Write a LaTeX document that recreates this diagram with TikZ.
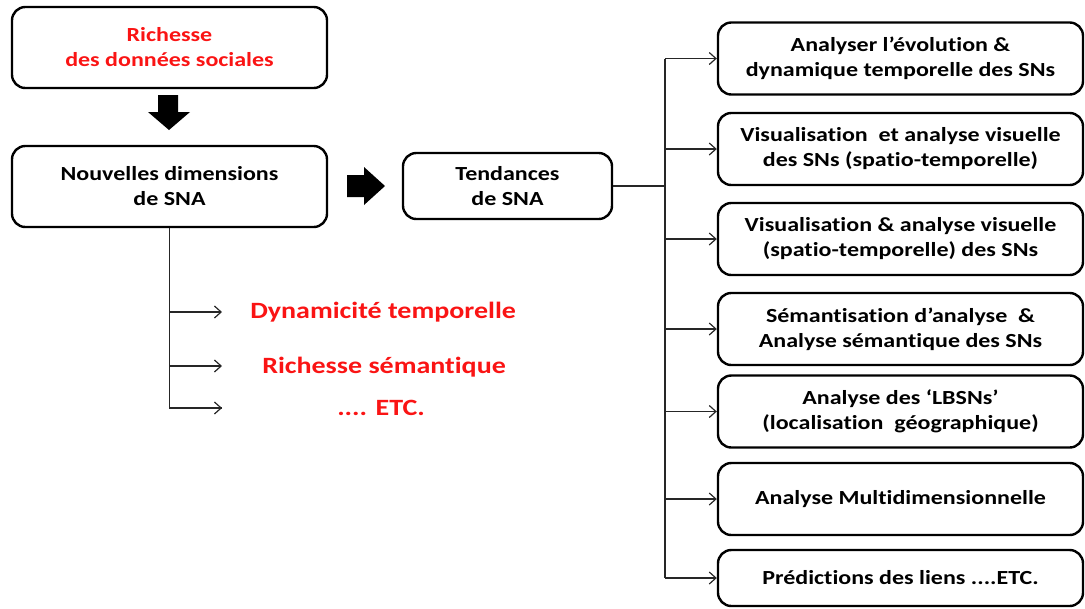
\documentclass[tikz,border=0pt]{standalone}
\usepackage{fontspec}
\setmainfont{Carlito}[FakeStretch=1.2, Ligatures=NoCommon]
\usetikzlibrary{arrows.meta}
\definecolor{hot}{RGB}{250,20,20}
\newcommand\px[1]{#1*0.75pt}
\begin{document}
\begin{tikzpicture}[x=0.75pt,y=-0.75pt,
  box/.style={draw=black, line width=1.8pt, rounded corners=10pt, align=center,
    font=\bfseries\fontsize{15}{18.75}\selectfont, inner sep=0pt},
  leftbox/.style={box, minimum width=\px{315}, minimum height=\px{81}},
  rightbox/.style={box, minimum width=\px{365}, minimum height=\px{72}},
  item/.style={text=hot, font=\bfseries\fontsize{17.5}{21}\selectfont, anchor=west, inner sep=0pt},
  link/.style={line width=1.1pt, draw=black!85},
  tip/.style={link, -{Straight Barb[length=5pt,width=9pt,line width=0.9pt]}},
  bigarrow/.style={fill=black, draw=none}
]
\useasboundingbox (0,0) rectangle (1085,608);

% left column
\node[leftbox, text=hot] (rich) at (169.5,47.5) {Richesse\\des données sociales};
\node[leftbox] (dims) at (169.5,186.5) {Nouvelles dimensions\\de SNA};
\node[box, minimum width=\px{209}, minimum height=\px{66}] (trend) at (507.5,186) {Tendances\\de SNA};

% block arrows
\fill[bigarrow] (158,95) -- (178,95) -- (178,112) -- (190,112) -- (169,130)
  -- (148,112) -- (158,112) -- cycle;
\fill[bigarrow] (347,175) -- (364,175) -- (364,167) -- (385,186) -- (364,205)
  -- (364,197) -- (347,197) -- cycle;

% new dimensions
\node[item] (dyn) at (250,312) {Dynamicité temporelle};
\node[item] (sem) at (262,367) {Richesse sémantique};
\node[item] (etc) at (337,408) {.... ETC.};
\coordinate (d1) at (222,312);
\coordinate (d2) at (222,366);
\coordinate (d3) at (222,408);
\draw[link] (dims.south) -- (dims.south |- d3) -- (d3);
\draw[tip] (dims.south |- d1) -- (d1);
\draw[tip] (dims.south |- d2) -- (d2);
\draw[tip] (dims.south |- d3) -- (d3);

% trends
\node[rightbox] (r1) at (900.5,58.5) {Analyser l’évolution \&\\dynamique temporelle des SNs};
\node[rightbox] (r2) at (900.5,149) {Visualisation\ \ et analyse visuelle\\des SNs (spatio-temporelle)};
\node[rightbox] (r3) at (900.5,239) {Visualisation \& analyse visuelle\\(spatio-temporelle) des SNs};
\node[rightbox] (r4) at (900.5,329) {Sémantisation d’analyse\ \ \&\\Analyse sémantique des SNs};
\node[rightbox] (r5) at (900.5,411.5) {Analyse des ‘LBSNs’\\(localisation\ \ géographique)};
\node[rightbox] (r6) at (900.5,499) {Analyse Multidimensionnelle};
\node[rightbox, minimum height=\px{56}] (r7) at (900.5,578) {Prédictions des liens ....ETC.};

\coordinate (trunk) at (665,186);
\draw[link] (trend.east) -- (trunk);
\draw[link] (trunk |- r1.west) -- (trunk |- r7.west);
\foreach \r in {r1,r2,r3,r4,r5,r6,r7}
  \draw[tip] (trunk |- \r.west) -- (\r.west);
\end{tikzpicture}
\end{document}
